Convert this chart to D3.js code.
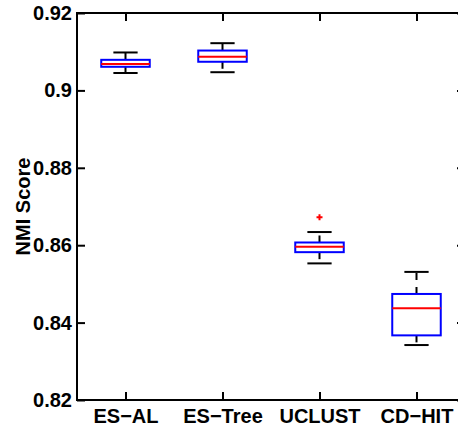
<!DOCTYPE html>
<html>
<head>
<meta charset="utf-8">
<script src="https://cdn.jsdelivr.net/npm/d3@7"></script>
<style>
  body { margin: 0; background: #fff; }
  svg { display: block; }
  .axis text { font-family: "Liberation Sans", Arial, Helvetica, sans-serif; font-weight: 700; font-size: 20px; fill: #000; }
  .axis line { stroke: #000; stroke-width: 2; }
  .axis path { display: none; }
</style>
</head>
<body>
<script>
// data
var categories = ["ES\u2212AL", "ES\u2212Tree", "UCLUST", "CD\u2212HIT"];
var whiskerLow  = [0.9045, 0.9047, 0.8553, 0.8342];
var q1          = [0.9061, 0.9074, 0.8582, 0.8367];
var medians     = [0.9068, 0.9087, 0.8596, 0.8437];
var q3          = [0.9079, 0.9103, 0.8607, 0.8474];
var whiskerHigh = [0.9098, 0.9122, 0.8634, 0.8531];
var outliers    = [[], [], [0.8672], []];
var yTicks = [0.82, 0.84, 0.86, 0.88, 0.9, 0.92];

var W = 458, H = 428;
var margin = { top: 13, left: 77 },
    plotW = 388, plotH = 387;

var svg = d3.select("body").append("svg")
    .attr("width", W)
    .attr("height", H)
    .style("overflow", "hidden");

var x = d3.scaleLinear().domain([0.5, 4.5]).range([margin.left, margin.left + plotW]);
var y = d3.scaleLinear().domain([0.82, 0.92]).range([margin.top + plotH, margin.top]);

var boxes = categories.map(function (c, i) {
    return { name: c, pos: i + 1, lo: whiskerLow[i], q1: q1[i], med: medians[i], q3: q3[i], hi: whiskerHigh[i], out: outliers[i] };
});

// axes
svg.append("g").attr("class", "axis")
    .attr("transform", "translate(" + margin.left + ",0)")
    .call(d3.axisLeft(y).tickValues(yTicks).tickFormat(d3.format("")).tickSizeInner(-8).tickSizeOuter(0).tickPadding(5));

svg.append("g").attr("class", "axis")
    .attr("transform", "translate(" + (margin.left + plotW) + ",0)")
    .call(d3.axisRight(y).tickValues(yTicks).tickFormat("").tickSizeInner(-8).tickSizeOuter(0));

svg.append("g").attr("class", "axis")
    .attr("transform", "translate(0," + (margin.top + plotH) + ")")
    .call(d3.axisBottom(x).tickValues([1, 2, 3, 4]).tickFormat(function (d, i) { return categories[i]; })
        .tickSizeInner(-8).tickSizeOuter(0).tickPadding(9));

svg.append("g").attr("class", "axis")
    .attr("transform", "translate(0," + margin.top + ")")
    .call(d3.axisTop(x).tickValues([1, 2, 3, 4]).tickFormat("").tickSizeInner(-8).tickSizeOuter(0));

// frame
svg.append("rect")
    .attr("x", margin.left)
    .attr("y", margin.top)
    .attr("width", plotW)
    .attr("height", plotH)
    .attr("fill", "none")
    .attr("stroke", "#000")
    .attr("stroke-width", 2);

// y label
svg.append("text")
    .attr("transform", "translate(30," + (margin.top + plotH / 2) + ") rotate(-90)")
    .attr("text-anchor", "middle")
    .style("font-family", "'Liberation Sans', Arial, Helvetica, sans-serif")
    .style("font-weight", "700")
    .style("font-size", "20px")
    .text("NMI Score");

var boxHalf = x(1.25) - x(1), capHalf = x(1.125) - x(1);

var g = svg.selectAll(".box").data(boxes).enter().append("g").attr("class", "box");

// whiskers (dashed)
g.append("line")
    .attr("x1", function (d) { return x(d.pos); })
    .attr("x2", function (d) { return x(d.pos); })
    .attr("y1", function (d) { return y(d.q3); })
    .attr("y2", function (d) { return y(d.hi); })
    .attr("stroke", "#000").attr("stroke-width", 2).attr("stroke-dasharray", "7,7");
g.append("line")
    .attr("x1", function (d) { return x(d.pos); })
    .attr("x2", function (d) { return x(d.pos); })
    .attr("y1", function (d) { return y(d.q1); })
    .attr("y2", function (d) { return y(d.lo); })
    .attr("stroke", "#000").attr("stroke-width", 2).attr("stroke-dasharray", "7,7");

// caps
["hi", "lo"].forEach(function (k) {
    g.append("line")
        .attr("x1", function (d) { return x(d.pos) - capHalf; })
        .attr("x2", function (d) { return x(d.pos) + capHalf; })
        .attr("y1", function (d) { return y(d[k]); })
        .attr("y2", function (d) { return y(d[k]); })
        .attr("stroke", "#000").attr("stroke-width", 2);
});

// boxes
g.append("rect")
    .attr("x", function (d) { return x(d.pos) - boxHalf; })
    .attr("width", boxHalf * 2)
    .attr("y", function (d) { return y(d.q3); })
    .attr("height", function (d) { return y(d.q1) - y(d.q3); })
    .attr("fill", "none")
    .attr("stroke", "#0000ff")
    .attr("stroke-width", 2);

// medians
g.append("line")
    .attr("x1", function (d) { return x(d.pos) - boxHalf; })
    .attr("x2", function (d) { return x(d.pos) + boxHalf; })
    .attr("y1", function (d) { return y(d.med); })
    .attr("y2", function (d) { return y(d.med); })
    .attr("stroke", "#ff0000").attr("stroke-width", 2);

// outliers
g.each(function (d) {
    var sel = d3.select(this);
    d.out.forEach(function (v) {
        sel.append("path")
            .attr("d", "M" + (x(d.pos) - 3) + "," + y(v) + "h6M" + x(d.pos) + "," + (y(v) - 3) + "v6")
            .attr("stroke", "#ff0000").attr("stroke-width", 2).attr("fill", "none");
    });
});
</script>
</body>
</html>
